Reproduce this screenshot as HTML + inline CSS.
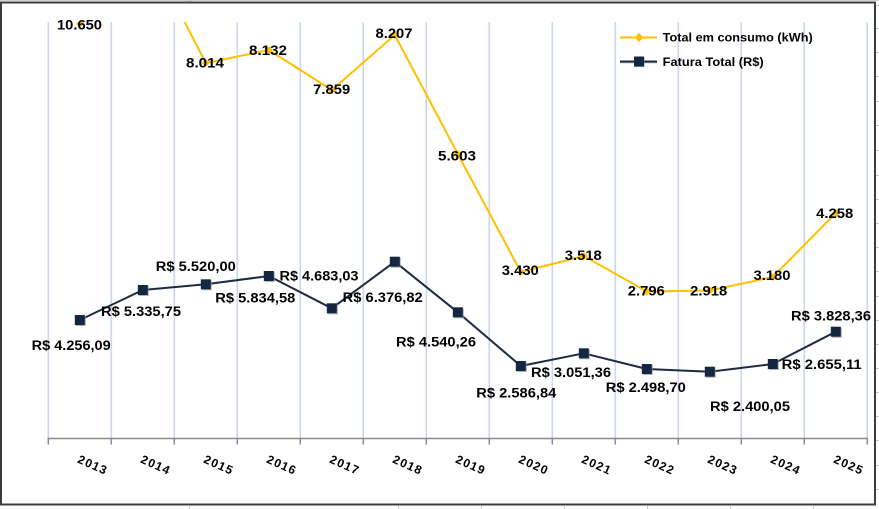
<!DOCTYPE html>
<html>
<head>
<meta charset="utf-8">
<style>
  html,body{margin:0;padding:0;background:#fff;}
  body{width:879px;height:509px;overflow:hidden;}
  svg{display:block;}
  text{font-family:"Liberation Sans","DejaVu Sans",sans-serif;font-weight:bold;fill:#000;}
</style>
</head>
<body>
<svg width="879" height="509" viewBox="0 0 879 509" xmlns="http://www.w3.org/2000/svg">
  <defs>
    <clipPath id="plot"><rect x="40" y="22" width="835" height="420"/></clipPath>
  </defs>
  <!-- spreadsheet background outside chart -->
  <rect x="0" y="0" width="879" height="509" fill="#fff"/>
  <line x1="0" y1="0.5" x2="879" y2="0.5" stroke="#d0d0d0" stroke-width="1"/>
  <g stroke="#c8c8c8" stroke-width="1">
    <line x1="876" y1="5.5" x2="879" y2="5.5"/>
    <line x1="876" y1="28.5" x2="879" y2="28.5"/>
    <line x1="876" y1="52.5" x2="879" y2="52.5"/>
    <line x1="876" y1="76.5" x2="879" y2="76.5"/>
    <line x1="876" y1="101.5" x2="879" y2="101.5"/>
    <line x1="876" y1="125.5" x2="879" y2="125.5"/>
    <line x1="876" y1="150.5" x2="879" y2="150.5"/>
    <line x1="876" y1="175.5" x2="879" y2="175.5"/>
    <line x1="876" y1="199.5" x2="879" y2="199.5"/>
    <line x1="876" y1="223.5" x2="879" y2="223.5"/>
    <line x1="876" y1="247.5" x2="879" y2="247.5"/>
    <line x1="876" y1="271.5" x2="879" y2="271.5"/>
    <line x1="876" y1="296.5" x2="879" y2="296.5"/>
    <line x1="876" y1="320.5" x2="879" y2="320.5"/>
    <line x1="876" y1="344.5" x2="879" y2="344.5"/>
    <line x1="876" y1="368.5" x2="879" y2="368.5"/>
    <line x1="876" y1="392.5" x2="879" y2="392.5"/>
    <line x1="876" y1="416.5" x2="879" y2="416.5"/>
    <line x1="876" y1="440.5" x2="879" y2="440.5"/>
    <line x1="876" y1="465.5" x2="879" y2="465.5"/>
    <line x1="876" y1="489.5" x2="879" y2="489.5"/>
    <line x1="189.5" y1="506" x2="189.5" y2="509"/>
    <line x1="398.5" y1="506" x2="398.5" y2="509"/>
    <line x1="481.5" y1="506" x2="481.5" y2="509"/>
    <line x1="564.5" y1="506" x2="564.5" y2="509"/>
    <line x1="647.5" y1="506" x2="647.5" y2="509"/>
    <line x1="730.5" y1="506" x2="730.5" y2="509"/>
    <line x1="813.5" y1="506" x2="813.5" y2="509"/>
    <line x1="190.5" y1="0" x2="190.5" y2="2"/>
  </g>

  <!-- chart border -->
  <rect x="1" y="2.5" width="874" height="502" fill="#fff" stroke="#3c3c3c" stroke-width="2"/>

  <!-- vertical gridlines -->
  <g stroke="#c9d6ee" stroke-width="1.6">
    <line x1="48.3" y1="22" x2="48.3" y2="438"/>
    <line x1="111.3" y1="22" x2="111.3" y2="438"/>
    <line x1="174.3" y1="22" x2="174.3" y2="438"/>
    <line x1="237.3" y1="22" x2="237.3" y2="438"/>
    <line x1="300.3" y1="22" x2="300.3" y2="438"/>
    <line x1="363.3" y1="22" x2="363.3" y2="438"/>
    <line x1="426.3" y1="22" x2="426.3" y2="438"/>
    <line x1="489.3" y1="22" x2="489.3" y2="438"/>
    <line x1="552.3" y1="22" x2="552.3" y2="438"/>
    <line x1="615.3" y1="22" x2="615.3" y2="438"/>
    <line x1="678.3" y1="22" x2="678.3" y2="438"/>
    <line x1="741.3" y1="22" x2="741.3" y2="438"/>
    <line x1="804.3" y1="22" x2="804.3" y2="438"/>
    <line x1="867.3" y1="22" x2="867.3" y2="438"/>
  </g>

  <!-- x axis -->
  <g stroke="#8a8a8a" stroke-width="1.5">
    <line x1="47.5" y1="438.5" x2="868" y2="438.5"/>
    <line x1="48.3" y1="438" x2="48.3" y2="444.5"/>
    <line x1="111.3" y1="438" x2="111.3" y2="444.5"/>
    <line x1="174.3" y1="438" x2="174.3" y2="444.5"/>
    <line x1="237.3" y1="438" x2="237.3" y2="444.5"/>
    <line x1="300.3" y1="438" x2="300.3" y2="444.5"/>
    <line x1="363.3" y1="438" x2="363.3" y2="444.5"/>
    <line x1="426.3" y1="438" x2="426.3" y2="444.5"/>
    <line x1="489.3" y1="438" x2="489.3" y2="444.5"/>
    <line x1="552.3" y1="438" x2="552.3" y2="444.5"/>
    <line x1="615.3" y1="438" x2="615.3" y2="444.5"/>
    <line x1="678.3" y1="438" x2="678.3" y2="444.5"/>
    <line x1="741.3" y1="438" x2="741.3" y2="444.5"/>
    <line x1="804.3" y1="438" x2="804.3" y2="444.5"/>
    <line x1="867.3" y1="438" x2="867.3" y2="444.5"/>
  </g>

  <!-- year labels (rotated) -->
  <g font-size="12" letter-spacing="1.2">
    <text transform="translate(92.8,465) rotate(24)" text-anchor="middle" dy="4">2013</text>
    <text transform="translate(155.8,465) rotate(24)" text-anchor="middle" dy="4">2014</text>
    <text transform="translate(218.8,465) rotate(24)" text-anchor="middle" dy="4">2015</text>
    <text transform="translate(281.8,465) rotate(24)" text-anchor="middle" dy="4">2016</text>
    <text transform="translate(344.8,465) rotate(24)" text-anchor="middle" dy="4">2017</text>
    <text transform="translate(407.8,465) rotate(24)" text-anchor="middle" dy="4">2018</text>
    <text transform="translate(470.8,465) rotate(24)" text-anchor="middle" dy="4">2019</text>
    <text transform="translate(533.8,465) rotate(24)" text-anchor="middle" dy="4">2020</text>
    <text transform="translate(596.8,465) rotate(24)" text-anchor="middle" dy="4">2021</text>
    <text transform="translate(659.8,465) rotate(24)" text-anchor="middle" dy="4">2022</text>
    <text transform="translate(722.8,465) rotate(24)" text-anchor="middle" dy="4">2023</text>
    <text transform="translate(785.8,465) rotate(24)" text-anchor="middle" dy="4">2024</text>
    <text transform="translate(848.8,465) rotate(24)" text-anchor="middle" dy="4">2025</text>
  </g>

  <!-- yellow series: Total em consumo -->
  <g clip-path="url(#plot)">
    <polyline fill="none" stroke="#ffc000" stroke-width="2" stroke-linejoin="round"
      points="79.8,24 142.8,-59 205.8,63 268.8,50 331.8,90 394.8,35 457.8,154 520.8,272 583.8,256 646.8,291.5 709.8,290.5 772.8,277 835.8,213"/>
    <g fill="#ffc000">
      <polygon points="79.8,20 83.8,24 79.8,28 75.8,24"/>
      <polygon points="205.8,59 209.8,63 205.8,67 201.8,63"/>
      <polygon points="268.8,46 272.8,50 268.8,54 264.8,50"/>
      <polygon points="331.8,86 335.8,90 331.8,94 327.8,90"/>
      <polygon points="394.8,31 398.8,35 394.8,39 390.8,35"/>
      <polygon points="457.8,150 461.8,154 457.8,158 453.8,154"/>
      <polygon points="520.8,268 524.8,272 520.8,276 516.8,272"/>
      <polygon points="583.8,252 587.8,256 583.8,260 579.8,256"/>
      <polygon points="646.8,287.5 650.8,291.5 646.8,295.5 642.8,291.5"/>
      <polygon points="709.8,286.5 713.8,290.5 709.8,294.5 705.8,290.5"/>
      <polygon points="772.8,273 776.8,277 772.8,281 768.8,277"/>
      <polygon points="835.8,209 839.8,213 835.8,217 831.8,213"/>
    </g>
  </g>

  <!-- navy series: Fatura Total -->
  <polyline fill="none" stroke="#1d2b42" stroke-width="2" stroke-linejoin="round"
    points="79.8,320 142.8,290 205.8,284.3 268.8,276 331.8,308.3 394.8,261.7 457.8,312.3 520.8,366 583.8,353.3 646.8,369 709.8,371.7 772.8,364 835.8,331.7"/>
  <g fill="#8d939c" opacity="0.7">
    <rect x="75.8" y="316" width="10" height="10"/>
    <rect x="138.8" y="286" width="10" height="10"/>
    <rect x="201.8" y="280.3" width="10" height="10"/>
    <rect x="264.8" y="272" width="10" height="10"/>
    <rect x="327.8" y="304.3" width="10" height="10"/>
    <rect x="390.8" y="257.7" width="10" height="10"/>
    <rect x="453.8" y="308.3" width="10" height="10"/>
    <rect x="516.8" y="362" width="10" height="10"/>
    <rect x="579.8" y="349.3" width="10" height="10"/>
    <rect x="642.8" y="365" width="10" height="10"/>
    <rect x="705.8" y="367.7" width="10" height="10"/>
    <rect x="768.8" y="360" width="10" height="10"/>
    <rect x="831.8" y="327.7" width="10" height="10"/>
  </g>
  <g fill="#152641">
    <rect x="74.8" y="315" width="10" height="10"/>
    <rect x="137.8" y="285" width="10" height="10"/>
    <rect x="200.8" y="279.3" width="10" height="10"/>
    <rect x="263.8" y="271" width="10" height="10"/>
    <rect x="326.8" y="303.3" width="10" height="10"/>
    <rect x="389.8" y="256.7" width="10" height="10"/>
    <rect x="452.8" y="307.3" width="10" height="10"/>
    <rect x="515.8" y="361" width="10" height="10"/>
    <rect x="578.8" y="348.3" width="10" height="10"/>
    <rect x="641.8" y="364" width="10" height="10"/>
    <rect x="704.8" y="366.7" width="10" height="10"/>
    <rect x="767.8" y="359" width="10" height="10"/>
    <rect x="830.8" y="326.7" width="10" height="10"/>
  </g>

  <!-- yellow labels -->
  <g font-size="13.5" text-anchor="middle">
    <text x="79.5" y="29.5" textLength="45" lengthAdjust="spacingAndGlyphs">10.650</text>
    <text x="205" y="67.5" textLength="38" lengthAdjust="spacingAndGlyphs">8.014</text>
    <text x="268" y="55" textLength="38" lengthAdjust="spacingAndGlyphs">8.132</text>
    <text x="331.7" y="94" textLength="37" lengthAdjust="spacingAndGlyphs">7.859</text>
    <text x="394" y="38" textLength="37" lengthAdjust="spacingAndGlyphs">8.207</text>
    <text x="457" y="160.7" textLength="38" lengthAdjust="spacingAndGlyphs">5.603</text>
    <text x="520.3" y="275" textLength="37" lengthAdjust="spacingAndGlyphs">3.430</text>
    <text x="583.3" y="260" textLength="37" lengthAdjust="spacingAndGlyphs">3.518</text>
    <text x="646.3" y="295.5" textLength="37" lengthAdjust="spacingAndGlyphs">2.796</text>
    <text x="708.7" y="295.5" textLength="37" lengthAdjust="spacingAndGlyphs">2.918</text>
    <text x="772" y="280" textLength="37" lengthAdjust="spacingAndGlyphs">3.180</text>
    <text x="834.7" y="218" textLength="37" lengthAdjust="spacingAndGlyphs">4.258</text>
  </g>

  <!-- navy labels -->
  <g font-size="13.5" text-anchor="middle">
    <text x="71.2" y="350" textLength="79" lengthAdjust="spacingAndGlyphs">R$ 4.256,09</text>
    <text x="141" y="316" textLength="80" lengthAdjust="spacingAndGlyphs">R$ 5.335,75</text>
    <text x="195.8" y="271" textLength="80" lengthAdjust="spacingAndGlyphs">R$ 5.520,00</text>
    <text x="255.3" y="302.5" textLength="80" lengthAdjust="spacingAndGlyphs">R$ 5.834,58</text>
    <text x="319" y="280.3" textLength="79" lengthAdjust="spacingAndGlyphs">R$ 4.683,03</text>
    <text x="382.7" y="302" textLength="80" lengthAdjust="spacingAndGlyphs">R$ 6.376,82</text>
    <text x="436" y="346.7" textLength="80" lengthAdjust="spacingAndGlyphs">R$ 4.540,26</text>
    <text x="516.3" y="397.7" textLength="80" lengthAdjust="spacingAndGlyphs">R$ 2.586,84</text>
    <text x="571" y="377" textLength="80" lengthAdjust="spacingAndGlyphs">R$ 3.051,36</text>
    <text x="645.8" y="392" textLength="80" lengthAdjust="spacingAndGlyphs">R$ 2.498,70</text>
    <text x="750" y="411" textLength="80" lengthAdjust="spacingAndGlyphs">R$ 2.400,05</text>
    <text x="821.7" y="369" textLength="80" lengthAdjust="spacingAndGlyphs">R$ 2.655,11</text>
    <text x="831" y="320.7" textLength="80" lengthAdjust="spacingAndGlyphs">R$ 3.828,36</text>
  </g>

  <!-- legend -->
  <line x1="620" y1="37.5" x2="657" y2="37.5" stroke="#ffc000" stroke-width="2"/>
  <polygon points="639,33 643.5,37.5 639,42 634.5,37.5" fill="#ffc000"/>
  <text x="662.7" y="41.5" font-size="11.5" textLength="150" lengthAdjust="spacingAndGlyphs">Total em consumo (kWh)</text>
  <line x1="620" y1="62.5" x2="657" y2="62.5" stroke="#9aa0a8" stroke-width="1.5"/>
  <line x1="620" y1="61.5" x2="657" y2="61.5" stroke="#1d2b42" stroke-width="2"/>
  <rect x="634.5" y="57" width="10" height="10" fill="#8d939c" opacity="0.7"/>
  <rect x="634" y="56.5" width="10" height="10" fill="#152641"/>
  <text x="662.7" y="65.8" font-size="11.5" textLength="101" lengthAdjust="spacingAndGlyphs">Fatura Total (R$)</text>
</svg>
</body>
</html>
